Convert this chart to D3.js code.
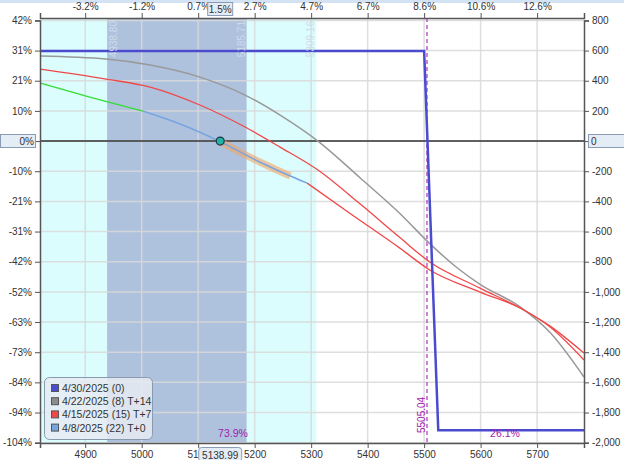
<!DOCTYPE html>
<html>
<head>
<meta charset="utf-8">
<script src="https://cdn.jsdelivr.net/npm/d3@7"></script>
<style>
  body { margin: 0; background: #fff; }
  text { font-family: "Liberation Sans", Arial, sans-serif; font-size: 10px; fill: #333; }
</style>
</head>
<body>
<div id="chart"></div>
<script>
// price ticks (bottom) and % change labels (top)
var priceTicks = [4900, 5000, 5100, 5200, 5300, 5400, 5500, 5600, 5700];
var pctTopLabels = ["-3.2%", "-1.2%", "0.7%", "2.7%", "4.7%", "6.7%", "8.6%", "10.6%", "12.6%"];

// P&L ticks (right) and % of capital labels (left)
var plTicks = [800, 600, 400, 200, 0, -200, -400, -600, -800, -1000, -1200, -1400, -1600, -1800, -2000];
var pctLeftLabels = ["42%", "31%", "21%", "10%", "0%", "-10%", "-21%", "-31%", "-42%", "-52%", "-63%", "-73%", "-84%", "-94%", "-104%"];

var currentPrice = 5138.99;
var currentPct = "1.5%";
var bandLow = 4938.80, bandHigh = 5185.71, rangeHigh = 5309.16;
var breakeven = 5505.04;
var probLeft = "73.9%", probRight = "26.1%";

// 4/30/2025 (0) expiration
var expiry = [[4820, 597], [5500, 597], [5525, -1918], [5783, -1918]];
// 4/22/2025 (8) T+14
var t14 = [[4820, 564], [4937, 544], [5015, 504], [5103, 424], [5183, 305], [5245, 172], [5312, 0],
           [5387, -245], [5457, -480], [5510, -680], [5555, -830], [5599, -950], [5670, -1100],
           [5723, -1270], [5783, -1565]];
// 4/15/2025 (15) T+7
var t7 = [[4820, 477], [4937, 411], [5015, 358], [5103, 239], [5183, 93], [5245, -40], [5312, -192],
          [5387, -418], [5457, -640], [5510, -802], [5599, -975], [5670, -1107], [5723, -1227], [5783, -1406]];
// 4/8/2025 (22) T+0
var t0 = [[4820, 385], [4908, 292], [5002, 199], [5068, 113], [5137, 0], [5209, -139], [5263, -232],
          [5293, -279], [5369, -480], [5457, -710], [5510, -855], [5599, -1001], [5670, -1107],
          [5723, -1233], [5783, -1452]];

var legendNames = ["4/30/2025 (0)", "4/22/2025 (8) T+14", "4/15/2025 (15) T+7", "4/8/2025 (22) T+0"];
var legendColors = ["#4b4bd0", "#8c8c8c", "#f04848", "#78a4e0"];

var W = 624, H = 460;
var pL = 40, pR = 584, pT = 18, pB = 443;

var svg = d3.select("#chart").append("svg").attr("width", W).attr("height", H);

var x = d3.scaleLinear().domain([4820, 5783]).range([pL, pR]);
var y = d3.scaleLinear().domain([-2000, 800]).range([442.7, 20.4]);

var hyphen = s => s.replace(/\u2212/g, "-");

svg.append("rect").attr("x", 0).attr("y", 0).attr("width", W).attr("height", 3).attr("fill", "#d4e3f3");

svg.append("defs").append("clipPath").attr("id", "plot")
  .append("rect").attr("x", pL).attr("y", pT).attr("width", pR - pL).attr("height", pB - pT);

var plot = svg.append("g").attr("clip-path", "url(#plot)");

// shaded ranges
plot.append("rect").attr("x", pL).attr("y", pT).attr("width", x(rangeHigh) - pL).attr("height", pB - pT)
  .attr("fill", "#dcfdfd");
plot.append("rect").attr("x", x(bandLow)).attr("y", pT).attr("width", x(bandHigh) - x(bandLow)).attr("height", pB - pT)
  .attr("fill", "#afc2dd");

// grid
plot.selectAll(".vg").data(priceTicks).enter().append("line")
  .attr("x1", d => x(d)).attr("x2", d => x(d)).attr("y1", pT).attr("y2", pB)
  .attr("stroke", "#d9d9d9").attr("stroke-width", 1.5).attr("opacity", 0.85);
plot.selectAll(".hg").data(plTicks).enter().append("line")
  .attr("x1", pL).attr("x2", pR).attr("y1", d => y(d)).attr("y2", d => y(d))
  .attr("stroke", "#d9d9d9").attr("stroke-width", 1.5).attr("opacity", 0.85);

// vertical range labels
function vlabel(v, dx) {
  svg.append("text").attr("transform", "translate(" + (x(v) + dx) + "," + (pT + 3) + ") rotate(-90)")
    .attr("text-anchor", "end").style("fill", "#cfdbea").style("font-size", "10px").text(v.toFixed(2));
}
vlabel(bandLow, 10);
vlabel(bandHigh, -2);
vlabel(rangeHigh, -2);

// zero line
plot.append("line").attr("x1", pL).attr("x2", pR).attr("y1", y(0)).attr("y2", y(0))
  .attr("stroke", "#333").attr("stroke-width", 1.5);

// breakeven dashed line
plot.append("line").attr("x1", x(breakeven)).attr("x2", x(breakeven)).attr("y1", pT).attr("y2", pB)
  .attr("stroke", "#b030c0").attr("stroke-width", 1.2).attr("stroke-dasharray", "4,3");
svg.append("text").attr("transform", "translate(" + (x(breakeven) - 2) + "," + (pB - 10) + ") rotate(-90)")
  .style("fill", "#a020b0").style("font-size", "10px").text(breakeven.toFixed(2));

var line = d3.line().x(d => x(d[0])).y(d => y(d[1])).curve(d3.curveMonotoneX);

plot.append("path").datum(t14).attr("d", line).attr("fill", "none").attr("stroke", "#999").attr("stroke-width", 1.5);
plot.append("path").datum(t7).attr("d", line).attr("fill", "none").attr("stroke", "#f04848").attr("stroke-width", 1.3);

// T+0 line, coloured in segments
var t0Green = t0.filter(d => d[0] <= 5002);
var t0Blue = t0.filter(d => d[0] >= 5002 && d[0] <= 5293);
var t0Red = t0.filter(d => d[0] >= 5293);
var t0Hl = t0.filter(d => d[0] >= 5137 && d[0] <= 5263);
plot.append("path").datum(t0Hl).attr("d", line).attr("fill", "none").attr("stroke", "#f4a460")
  .attr("stroke-width", 7).attr("opacity", 0.6);
plot.append("path").datum(t0Green).attr("d", line).attr("fill", "none").attr("stroke", "#33dd33").attr("stroke-width", 1.3);
plot.append("path").datum(t0Blue).attr("d", line).attr("fill", "none").attr("stroke", "#78a4e0").attr("stroke-width", 1.5);
plot.append("path").datum(t0Red).attr("d", line).attr("fill", "none").attr("stroke", "#f04848").attr("stroke-width", 1.3);

plot.append("path").datum(expiry).attr("d", d3.line().x(d => x(d[0])).y(d => y(d[1])))
  .attr("fill", "none").attr("stroke", "#4b4bd0").attr("stroke-width", 2.5);

// current price dot
plot.append("circle").attr("cx", x(currentPrice)).attr("cy", y(0)).attr("r", 4)
  .attr("fill", "#1fb5a5").attr("stroke", "#234").attr("stroke-width", 1.2);

// probabilities
svg.append("text").attr("x", 233).attr("y", 437).attr("text-anchor", "middle").style("fill", "#a020b0").style("font-size", "10.5px").text(probLeft);
svg.append("text").attr("x", 505).attr("y", 437).attr("text-anchor", "middle").style("fill", "#a020b0").style("font-size", "10.5px").text(probRight);

// axes
var axisColor = "#555";
svg.append("g").attr("transform", "translate(" + pL + ",0)")
  .call(d3.axisLeft(y).tickValues(plTicks).tickSize(5).tickFormat((d, i) => d === 0 ? "" : pctLeftLabels[i]));
svg.append("g").attr("transform", "translate(" + pR + ",0)")
  .call(d3.axisRight(y).tickValues(plTicks).tickSize(5).tickFormat(d => d === 0 ? "" : hyphen(d3.format(",")(d))));
svg.append("g").attr("transform", "translate(0," + pT + ")")
  .call(d3.axisTop(x).tickValues(priceTicks).tickSize(5).tickFormat((d, i) => pctTopLabels[i]));
svg.append("g").attr("transform", "translate(0," + pB + ")")
  .call(d3.axisBottom(x).tickValues(priceTicks).tickSize(5).tickFormat(d3.format("d")));
svg.selectAll(".domain").attr("stroke", axisColor).attr("stroke-width", 1.5);
svg.selectAll(".tick line").attr("stroke", axisColor);
svg.selectAll(".tick text").style("font-family", "'Liberation Sans', Arial, sans-serif").style("font-size", "10px").attr("fill", "#333");

// highlighted boxes
function box(bx, by, bw, bh, tx, anchor, label, r) {
  svg.append("rect").attr("x", bx).attr("y", by).attr("width", bw).attr("height", bh).attr("rx", r)
    .attr("fill", "#e4ecf6").attr("stroke", "#8a9cb4");
  svg.append("text").attr("x", tx).attr("y", by + bh - 3).attr("text-anchor", anchor).text(label);
}
box(0.5, 134.5, 35, 13, 34, "end", "0%", 0);
box(588.5, 134.5, 40, 13, 591, "start", "0", 0);
box(x(currentPrice) - 12.5, 2.5, 25, 13, x(currentPrice), "middle", currentPct, 0);
box(x(currentPrice) - 21.5, 447.5, 43, 14, x(currentPrice), "middle", currentPrice.toFixed(2), 3);

// legend
var lg = svg.append("g").attr("transform", "translate(44,377)");
lg.append("rect").attr("x", 0.5).attr("y", 0.5).attr("width", 108).attr("height", 62).attr("rx", 5)
  .attr("fill", "#e6ebf2").attr("fill-opacity", 0.85).attr("stroke", "#8a9aae");
legendNames.forEach(function (n, i) {
  lg.append("rect").attr("x", 7.5).attr("y", 7.5 + i * 13.2).attr("width", 7).attr("height", 7)
    .attr("fill", legendColors[i]).attr("stroke", "#555");
  lg.append("text").attr("x", 18).attr("y", 15 + i * 13.2).style("font-size", "10.5px").text(n);
});
</script>
</body>
</html>
